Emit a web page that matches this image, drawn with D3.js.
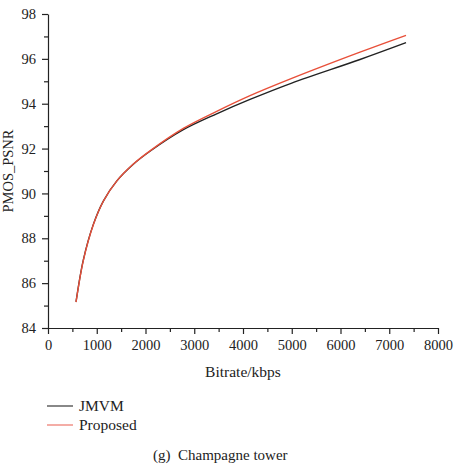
<!DOCTYPE html>
<html lang="en">
<head>
<meta charset="utf-8">
<title>Champagne tower</title>
<script src="https://d3js.org/d3.v7.min.js"></script>
<style>
body { margin: 0; background: #fff; }
text { font-family: "Liberation Serif", "DejaVu Serif", serif; fill: #222; }
</style>
</head>
<body>
<div id="chart"></div>
<script>
// data
var bitrate  = [575, 724, 930, 1135, 1409, 1750, 2092, 2776, 3460, 4144, 5000, 6400, 7344];
var jmvm     = [85.17, 87.03, 88.62, 89.66, 90.55, 91.30, 91.88, 92.84, 93.55, 94.19, 94.92, 95.97, 96.72];
var proposed = [85.15, 87.00, 88.60, 89.65, 90.55, 91.31, 91.90, 92.90, 93.66, 94.36, 95.13, 96.30, 97.05];
var seriesNames = ["JMVM", "Proposed"];
var seriesColors = ["#222222", "#e8503a"];
var legendColors = ["#555555", "#f08a80"];
var xTicks = [0, 1000, 2000, 3000, 4000, 5000, 6000, 7000, 8000];
var yTicks = [84, 86, 88, 90, 92, 94, 96, 98];

var w = 459, h = 467;
var mLeft = 48, mRight = 438, mTop = 14, mBottom = 328;

var svg = d3.select("#chart").append("svg")
  .attr("width", w).attr("height", h);

var x = d3.scaleLinear().domain([0, 8000]).range([mLeft, mRight]);
var y = d3.scaleLinear().domain([84, 98]).range([mBottom, mTop]);

// minor ticks
svg.append("g")
  .attr("transform", "translate(0," + mBottom + ")")
  .call(d3.axisBottom(x).tickValues(d3.range(500, 8000, 1000)).tickSize(4).tickFormat(""))
  .call(g => g.select(".domain").remove());
svg.append("g")
  .attr("transform", "translate(" + mLeft + ",0)")
  .call(d3.axisLeft(y).tickValues(d3.range(85, 98, 2)).tickSize(4).tickFormat(""))
  .call(g => g.select(".domain").remove());

// main axes
svg.append("g")
  .attr("transform", "translate(0," + mBottom + ")")
  .call(d3.axisBottom(x).tickValues(xTicks).tickFormat(d3.format("d"))
    .tickSize(6).tickSizeOuter(0).tickPadding(6));
svg.append("g")
  .attr("transform", "translate(" + mLeft + ",0)")
  .call(d3.axisLeft(y).tickValues(yTicks).tickFormat(d3.format("d"))
    .tickSize(6).tickSizeOuter(0).tickPadding(6));

svg.selectAll(".tick text")
  .style("font-family", "'Liberation Serif', serif")
  .style("font-size", "14.5px")
  .attr("fill", "#222");
svg.selectAll(".domain, .tick line").attr("stroke", "#222").attr("stroke-width", 1.2);

// axis titles
svg.append("text")
  .attr("x", (mLeft + mRight) / 2).attr("y", 377)
  .attr("text-anchor", "middle")
  .style("font-size", "15.5px")
  .text("Bitrate/kbps");
svg.append("text")
  .attr("transform", "translate(13," + ((mTop + mBottom) / 2) + ") rotate(-90)")
  .attr("text-anchor", "middle")
  .style("font-size", "14.5px")
  .text("PMOS_PSNR");

// lines
var allSeries = [jmvm, proposed];
var line = d3.line()
  .x((d, i) => x(bitrate[i]))
  .y(d => y(d))
  .curve(d3.curveCatmullRom.alpha(0.5));

svg.selectAll("path.series")
  .data(allSeries)
  .enter()
  .append("path")
  .attr("class", "series")
  .attr("d", line)
  .attr("fill", "none")
  .attr("stroke", (d, i) => seriesColors[i])
  .attr("stroke-width", 1.4);

// legend
var legend = svg.selectAll("g.legend")
  .data(seriesNames)
  .enter()
  .append("g")
  .attr("class", "legend")
  .attr("transform", (d, i) => "translate(47," + (406 + i * 19) + ")");
legend.append("line")
  .attr("x1", 0).attr("x2", 26)
  .attr("stroke", (d, i) => legendColors[i])
  .attr("stroke-width", 1.4);
legend.append("text")
  .attr("x", 32).attr("y", 5)
  .style("font-size", "15.5px")
  .text(d => d);

// caption
svg.append("text")
  .attr("x", 153).attr("y", 460)
  .style("font-size", "15px")
  .attr("fill", "#333")
  .text("(g)\u2002Champagne tower");
</script>
</body>
</html>
